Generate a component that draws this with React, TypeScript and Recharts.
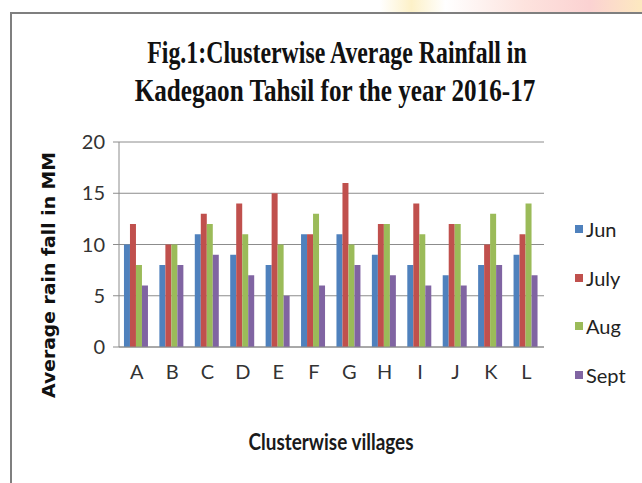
import React from "react";
import { BarChart, Bar, XAxis, YAxis, CartesianGrid } from "recharts";

const villages = ["A", "B", "C", "D", "E", "F", "G", "H", "I", "J", "K", "L"];
const jun = [10, 8, 11, 9, 8, 11, 11, 9, 8, 7, 8, 9];
const july = [12, 10, 13, 14, 15, 11, 16, 12, 14, 12, 10, 11];
const aug = [8, 10, 12, 11, 10, 13, 10, 12, 11, 12, 13, 14];
const sept = [6, 8, 9, 7, 5, 6, 8, 7, 6, 6, 8, 7];
const yTicks = [0, 5, 10, 15, 20];

const series = [
  { key: "jun", name: "Jun", color: "#4f81bd" },
  { key: "july", name: "July", color: "#c0504d" },
  { key: "aug", name: "Aug", color: "#9bbb59" },
  { key: "sept", name: "Sept", color: "#8064a2" },
];

const data = villages.map((v, i) => ({
  village: v,
  jun: jun[i],
  july: july[i],
  aug: aug[i],
  sept: sept[i],
}));

const tickFont = "Lato, 'Open Sans', sans-serif";
const titleFont = "'Liberation Serif', 'Times New Roman', serif";

const LegendBox = () => (
  <div style={{ fontFamily: tickFont, fontSize: 20, color: "#222" }}>
    {series.map((s) => (
      <div key={s.key} style={{ display: "flex", alignItems: "center", height: 48.5 }}>
        <span style={{ width: 8, height: 8, background: s.color, marginRight: 3, display: "inline-block" }} />
        <span>{s.name}</span>
      </div>
    ))}
  </div>
);

export default function App() {
  return (
    <div style={{ position: "absolute", left: 0, top: 0, width: 642, height: 483, background: "#fff", overflow: "hidden" }}>
      {/* faint watermark strip above the frame */}
      <div
        style={{
          position: "absolute",
          left: 380,
          top: 0,
          width: 262,
          height: 12,
          background: "linear-gradient(90deg, rgba(255,255,255,0) 0%, #fdf1c8 12%, #fff 25%, #fde3de 55%, #fbd2d2 80%, #fde9c0 100%)",
        }}
      />
      {/* frame */}
      <div
        style={{
          position: "absolute",
          left: 10,
          top: 12,
          width: 700,
          height: 500,
          borderLeft: "2px solid #7f7f7f",
          borderTop: "2px solid #7f7f7f",
          boxSizing: "border-box",
        }}
      />
      <div style={{ position: "absolute", left: 0, top: 0 }}>
        <BarChart
          width={642}
          height={483}
          data={data}
          margin={{ top: 142, right: 98, left: 59, bottom: 106 }}
          barCategoryGap="14%"
          barGap={0}
        >
          <CartesianGrid vertical={false} stroke="#8c8c8c" />
          <XAxis
            dataKey="village"
            height={30}
            tickLine={false}
            axisLine={{ stroke: "#8c8c8c" }}
            tick={{ fontFamily: tickFont, fontSize: 20, fill: "#333" }}
            tickMargin={12}
            interval={0}
          />
          <YAxis
            width={60}
            domain={[0, 20]}
            ticks={yTicks}
            tickSize={6}
            tickLine={{ stroke: "#8c8c8c" }}
            axisLine={{ stroke: "#8c8c8c" }}
            tick={{ fontFamily: tickFont, fontSize: 20, fill: "#333" }}
            tickMargin={8}
          />
          {series.map((s) => (
            <Bar key={s.key} dataKey={s.key} name={s.name} fill={s.color} isAnimationActive={false} />
          ))}
        </BarChart>
      </div>
      <div style={{ position: "absolute", left: 575, top: 205 }}>
        <LegendBox />
      </div>
      <svg width={642} height={483} style={{ position: "absolute", left: 0, top: 0, pointerEvents: "none" }}>
        {/* condensed bold serif title */}
        <text
          x={0}
          y={0}
          transform="translate(337 63) scale(0.745 1)"
          textAnchor="middle"
          style={{ fontFamily: titleFont, fontWeight: 700, fontSize: 32, fill: "#111" }}
        >
          Fig.1:Clusterwise Average Rainfall in
        </text>
        <text
          x={0}
          y={0}
          transform="translate(335 101) scale(0.786 1)"
          textAnchor="middle"
          style={{ fontFamily: titleFont, fontWeight: 700, fontSize: 32, fill: "#111" }}
        >
          Kadegaon Tahsil for the year 2016-17
        </text>
        <text
          x={0}
          y={0}
          transform="translate(55 275) rotate(-90)"
          textAnchor="middle"
          textLength={246}
          lengthAdjust="spacingAndGlyphs"
          style={{ fontFamily: "'DejaVu Sans', Verdana, sans-serif", fontWeight: 700, fontSize: 18, fill: "#111" }}
        >
          Average rain fall in MM
        </text>
        <text
          x={331}
          y={450}
          textAnchor="middle"
          textLength={165}
          lengthAdjust="spacingAndGlyphs"
          style={{ fontFamily: tickFont, fontWeight: 700, fontSize: 22, fill: "#1a1a1a" }}
        >
          Clusterwise villages
        </text>
      </svg>
    </div>
  );
}
